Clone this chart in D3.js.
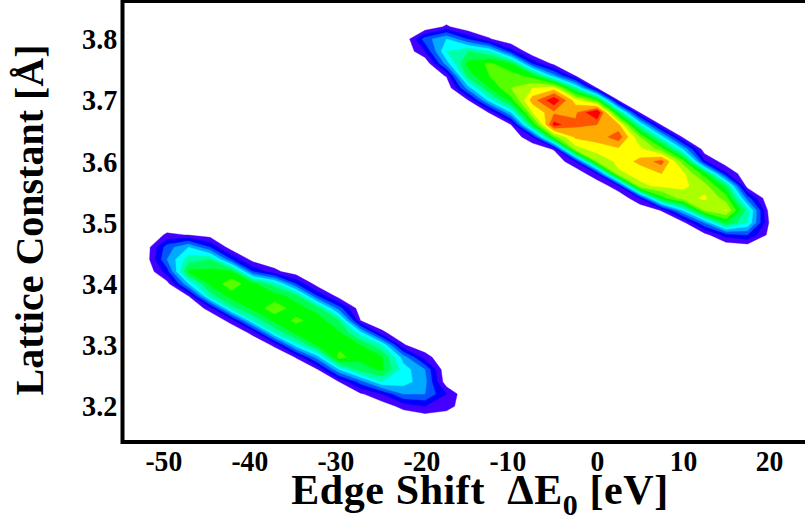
<!DOCTYPE html>
<html>
<head>
<meta charset="utf-8">
<script src="https://cdn.jsdelivr.net/npm/d3@7"></script>
<style>
  html, body { margin: 0; padding: 0; background: #fff; }
  svg { display: block; }
  text { font-family: "Liberation Serif", "Times New Roman", serif; font-weight: bold; fill: #000; }
</style>
</head>
<body>
<svg id="chart" width="805" height="525"></svg>
<script>
// grid of the fit-quality map: edge shift (eV) x lattice constant (Å)
const gridX = [-55, -52.5, -50, -47.5, -45, -42.5, -40, -37.5, -35, -32.5, -30, -27.5, -25, -22.5, -20, -17.5,
  -15, -12.5, -10, -7.5, -5, -2.5, 0, 2.5, 5, 7.5, 10, 12.5, 15, 17.5, 20, 22.5, 25];
const gridY = [3.86, 3.84, 3.82, 3.80, 3.78, 3.76, 3.74, 3.72, 3.70, 3.68, 3.66, 3.64, 3.62, 3.60, 3.58, 3.56,
  3.54, 3.52, 3.50, 3.48, 3.46, 3.44, 3.42, 3.40, 3.38, 3.36, 3.34, 3.32, 3.30, 3.28, 3.26, 3.24, 3.22, 3.20,
  3.18, 3.16, 3.14];

// [edge shift, first lattice constant of the column, levels going down in 0.02 Å steps]
const upperBlob = [
  [-20, 3.80, [3.5, 2.0]],
  [-17.5, 3.82, [1.2, 5, 6, 4.5, 1.1]],
  [-15, 3.80, [2.9, 7, 8.3, 7.5, 4.5, 0.9]],
  [-12.5, 3.80, [1.1, 6, 9.2, 9, 8, 5.5, 1.05]],
  [-10, 3.78, [2.5, 8, 9.5, 10, 8.5, 5, 0.95]],
  [-7.5, 3.76, [2.8, 8.5, 11, 12.5, 11, 8, 2.0]],
  [-5, 3.76, [0.6, 4.4, 11.5, 14.8, 12.8, 14.4, 9.5, 1.1]],
  [-2.5, 3.74, [0.95, 6.5, 11.5, 12.8, 13.2, 12.2, 10.5, 2]],
  [0, 3.72, [0.95, 9, 15.2, 13, 12.4, 11.5, 10, 2]],
  [2.5, 3.70, [0.9, 7.5, 12.3, 13.6, 11.8, 11.3, 10.8, 1.8]],
  [5, 3.68, [0.85, 6, 10, 11.3, 12.3, 11.3, 10.8, 2.0]],
  [7.5, 3.66, [0.8, 5.5, 9.5, 13.4, 12, 11.2, 8.5, 1.05]],
  [10, 3.64, [0.75, 5, 9.5, 11.3, 11.2, 10.5, 5, 0.6]],
  [12.5, 3.62, [0.3, 2.2, 8.5, 10.5, 11.2, 10, 4, 0.5]],
  [15, 3.60, [0.3, 2.2, 7.5, 9.5, 11.1, 8, 2.5]],
  [17.5, 3.56, [0.4, 3.5, 6.5, 6, 3, 0.3]],
  [20, 3.52, [0.6, 0.95, 0.7]]
];

const lowerBlob = [
  [-52.5, 3.46, [0.3, 0.3]],
  [-50, 3.48, [1.2, 3.5, 4, 2.5, 0.5]],
  [-47.5, 3.48, [0.95, 5, 6.5, 8.2, 5, 0.95]],
  [-45, 3.48, [0.5, 3, 7, 8.3, 8.2, 6.5, 1.4]],
  [-42.5, 3.46, [0.3, 3, 8.2, 9.6, 8.5, 6.5, 1.4]],
  [-40, 3.44, [0.5, 3, 8.3, 8.8, 8.3, 6, 1.3]],
  [-37.5, 3.44, [0.2, 1.3, 6.5, 8.5, 9.6, 8.3, 6, 1.2]],
  [-35, 3.42, [0.3, 3, 7.5, 8.5, 9.2, 8.3, 5.5, 1.05]],
  [-32.5, 3.40, [0.4, 3, 7.5, 8.6, 8.5, 8.2, 4.5, 0.9]],
  [-30, 3.38, [0.5, 3.5, 7, 8.2, 8.6, 9.4, 5, 0.98]],
  [-27.5, 3.36, [0.3, 1.0, 5.5, 8, 8.3, 7.5, 3.5, 0.8]],
  [-25, 3.34, [0.3, 1.2, 6, 8.1, 8.2, 6, 2, 0.3]],
  [-22.5, 3.32, [0.3, 1.1, 4.5, 5.5, 5.5, 4, 1.4]],
  [-20, 3.30, [0.2, 1.5, 4, 4.3, 4, 2, 0.3]],
  [-17.5, 3.24, [0.3, 2.0, 1.6]]
];

const levels = [1, 2, 3, 4, 5, 6, 7, 8, 9, 10, 11, 12, 13, 14];
const levelColors = ['#4400ff', '#0000ff', '#0055ff', '#00aaff', '#00ffff', '#00ffaa', '#00ff55',
  '#00ff00', '#55ff00', '#aaff00', '#ffff00', '#ffaa00', '#ff5500', '#ff0000'];

const xTicks = [-50, -40, -30, -20, -10, 0, 10, 20];
const yTicks = [3.2, 3.3, 3.4, 3.5, 3.6, 3.7, 3.8];

const svg = d3.select('#chart');
const x = d3.scaleLinear().domain([-55, 25]).range([124, 812]);
const y = d3.scaleLinear().domain([3.14, 3.86]).range([443, 2.3]);

const nx = gridX.length, ny = gridY.length;
const values = new Array(nx * ny).fill(0);
[...upperBlob, ...lowerBlob].forEach(([x0, y0, vals]) => {
  const i = gridX.findIndex(v => Math.abs(v - x0) < 1e-6);
  const j0 = gridY.findIndex(v => Math.abs(v - y0) < 1e-6);
  vals.forEach((v, k) => { values[(j0 + k) * nx + i] = v; });
});

const dxStep = gridX[1] - gridX[0];
const dyStep = gridY[1] - gridY[0];
const toScreen = d3.geoTransform({
  point(gx, gy) {
    this.stream.point(x(gridX[0] + (gx - 0.5) * dxStep), y(gridY[0] + (gy - 0.5) * dyStep));
  }
});
const path = d3.geoPath(toScreen);

const contours = d3.contours().size([nx, ny]).thresholds(levels)(values);

svg.append('g')
  .selectAll('path')
  .data(contours)
  .join('path')
  .attr('d', path)
  .attr('fill', (d, i) => levelColors[i])
  .attr('stroke', (d, i) => levelColors[i])
  .attr('stroke-width', 0.4);

// frame (right edge falls outside the picture)
svg.append('rect')
  .attr('x', 122.5).attr('y', 1)
  .attr('width', 700).attr('height', 441)
  .attr('fill', 'none').attr('stroke', '#000').attr('stroke-width', 4);

const xAxis = svg.append('g')
  .attr('transform', 'translate(0,442)')
  .call(d3.axisBottom(x).tickValues(xTicks).tickSize(0).tickPadding(8).tickFormat(d => String(d)));
xAxis.select('.domain').remove();
xAxis.selectAll('text')
  .attr('font-size', 30)
  .attr('x', d => d < 0 ? -4 : 0)
  .attr('transform', 'scale(0.92,1)');

const yAxis = svg.append('g')
  .attr('transform', 'translate(122.5,0)')
  .call(d3.axisLeft(y).tickValues(yTicks).tickSize(0).tickPadding(5.5).tickFormat(d3.format('.1f')));
yAxis.select('.domain').remove();
yAxis.selectAll('text')
  .attr('font-size', 30)
  .attr('transform', 'scale(0.94,1)');

svg.selectAll('.tick text').style('font-family', '"Liberation Serif", "Times New Roman", serif')
  .style('font-weight', 'bold').attr('fill', '#000');

// axis titles
const xTitle = svg.append('text')
  .attr('x', 480).attr('y', 504)
  .attr('text-anchor', 'middle')
  .attr('font-size', 42)
  .attr('letter-spacing', 0.6);
xTitle.append('tspan').text('Edge Shift\u00a0\u00a0\u0394E');
xTitle.append('tspan').attr('font-size', 30).attr('dy', 11).text('0');
xTitle.append('tspan').attr('dy', -11).text('\u00a0[eV]');

svg.append('text')
  .attr('transform', 'translate(43,220) rotate(-90)')
  .attr('text-anchor', 'middle')
  .attr('font-size', 40)
  .text('Lattice Constant [\u00c5]');
</script>
</body>
</html>
